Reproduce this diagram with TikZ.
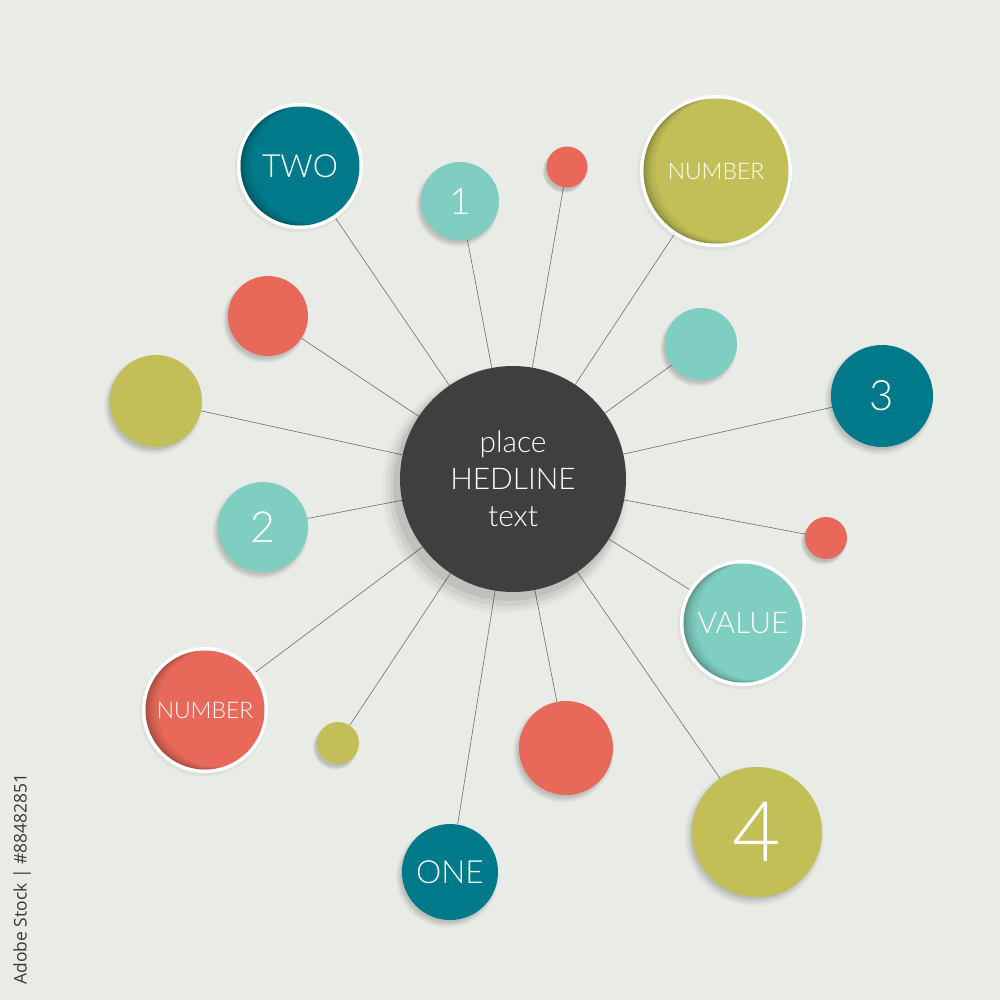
\documentclass[tikz,border=0pt]{standalone}
\usepackage{fontspec}
\setmainfont{Lato Light}
\newfontfamily\stockfont{Open Sans}
\usetikzlibrary{shadows}
\definecolor{bgc}{HTML}{E8EBE6}
\definecolor{tealc}{HTML}{007A8A}
\definecolor{ltealc}{HTML}{80CEC1}
\definecolor{redc}{HTML}{E8695A}
\definecolor{olivec}{HTML}{C2BF58}
\definecolor{darkc}{HTML}{3F3F3F}
\definecolor{linec}{HTML}{6E6E6E}
\pgfdeclarelayer{bg}
\pgfsetlayers{bg,main}
\tikzset{
  softshadow/.style={
    general shadow={shadow xshift=-2.5bp, shadow yshift=-4bp, shadow scale=1.07, fill=black, opacity=.03},
    general shadow={shadow xshift=-2.5bp, shadow yshift=-4bp, shadow scale=1.04, fill=black, opacity=.04},
    general shadow={shadow xshift=-2.5bp, shadow yshift=-4bp, shadow scale=1.01, fill=black, opacity=.06},
    general shadow={shadow xshift=-2bp, shadow yshift=-3bp, shadow scale=0.99, fill=black, opacity=.07}},
  bigshadow/.style={
    general shadow={shadow xshift=-7bp, shadow yshift=-10bp, shadow scale=1.09, fill=black, opacity=.025},
    general shadow={shadow xshift=-7bp, shadow yshift=-10bp, shadow scale=1.065, fill=black, opacity=.035},
    general shadow={shadow xshift=-6bp, shadow yshift=-9bp, shadow scale=1.04, fill=black, opacity=.05},
    general shadow={shadow xshift=-5bp, shadow yshift=-7bp, shadow scale=1.015, fill=black, opacity=.07}},
  ring/.style n args={3}{circle, inner sep=0pt, text=white, fill=white, minimum size=#1,
    general shadow={shadow xshift=-1bp, shadow yshift=-2bp, shadow scale=1.02, fill=black, opacity=.04},
    path picture={
      \fill[#2] (path picture bounding box.center) circle (#3);
      \begin{scope}
        \clip (path picture bounding box.center) circle (#3);
        \foreach \s/\o in {12/0.035, 9/0.045, 6/0.06, 3.5/0.07, 1.5/0.08}
          \fill[black, opacity=\o, even odd rule] (path picture bounding box.center) circle (#3+30bp)
            ([shift={(\s bp,0.2*\s bp)}]path picture bounding box.center) circle (#3);
      \end{scope}
    }},
  bub/.style={circle, inner sep=0pt, text=white, minimum size=#1, softshadow},
  conn/.style={draw=linec, line width=0.6bp},
  fs/.style={font=\fontsize{#1}{#1}\selectfont}
}
\begin{document}
\begin{tikzpicture}[x=1bp, y=-1bp]
\begin{pgfonlayer}{bg}
\fill[bgc] (0,0) rectangle (1000,1000);
\end{pgfonlayer}
\useasboundingbox (0,0) rectangle (1000,1000);

% center
\node[circle, inner sep=0pt, minimum size=226bp, fill=darkc, text=white, align=center,
  font=\fontsize{30}{37}\selectfont, bigshadow]
  (c) at (513,479) {place\\HEDLINE\\text};

% ringed bubbles
\node[ring={126bp}{tealc}{59.5bp}, fs=32] (two) at (300,166) {TWO};
\node[ring={152bp}{olivec}{72.5bp}, fs=23] (numT) at (716,171) {NUMBER};
\node[ring={126bp}{ltealc}{59.5bp}, fs=30] (value) at (743,623) {VALUE};
\node[ring={126bp}{redc}{59.5bp}, fs=23] (numL) at (205,710) {NUMBER};

% plain bubbles
\node[bub=78bp, fill=ltealc, fs=37] (one1) at (460,201) {1};
\node[bub=41bp, fill=redc] (sr1) at (567,167) {};
\node[bub=80bp, fill=redc] (r1) at (268,316) {};
\node[bub=72bp, fill=ltealc] (lt1) at (701,344) {};
\node[bub=92bp, fill=olivec] (ol1) at (156,401) {};
\node[bub=102bp, fill=tealc, fs=42] (three) at (882,396) {3};
\node[bub=90bp, fill=ltealc, fs=43] (two2) at (263,527) {2};
\node[bub=42bp, fill=redc] (sr2) at (826,538) {};
\node[bub=42bp, fill=olivec] (so) at (338,743) {};
\node[bub=94bp, fill=redc] (r2) at (566,748) {};
\node[bub=130bp, fill=olivec, fs=84] (four) at (757,832) {4};
\node[bub=96bp, fill=tealc, fs=32] (oneW) at (450,872) {ONE};

% connectors
\begin{pgfonlayer}{bg}
\foreach \n in {two,numT,value,numL,one1,sr1,r1,lt1,ol1,three,two2,sr2,so,r2,four,oneW}
  \draw[conn] (c) -- (\n);
\end{pgfonlayer}

% stock id
\node[rotate=90, text=black!78, font=\stockfont\fontsize{17.5}{17.5}\selectfont] (id) at (22,879) {Adobe Stock | \#88482851};
\end{tikzpicture}
\end{document}
